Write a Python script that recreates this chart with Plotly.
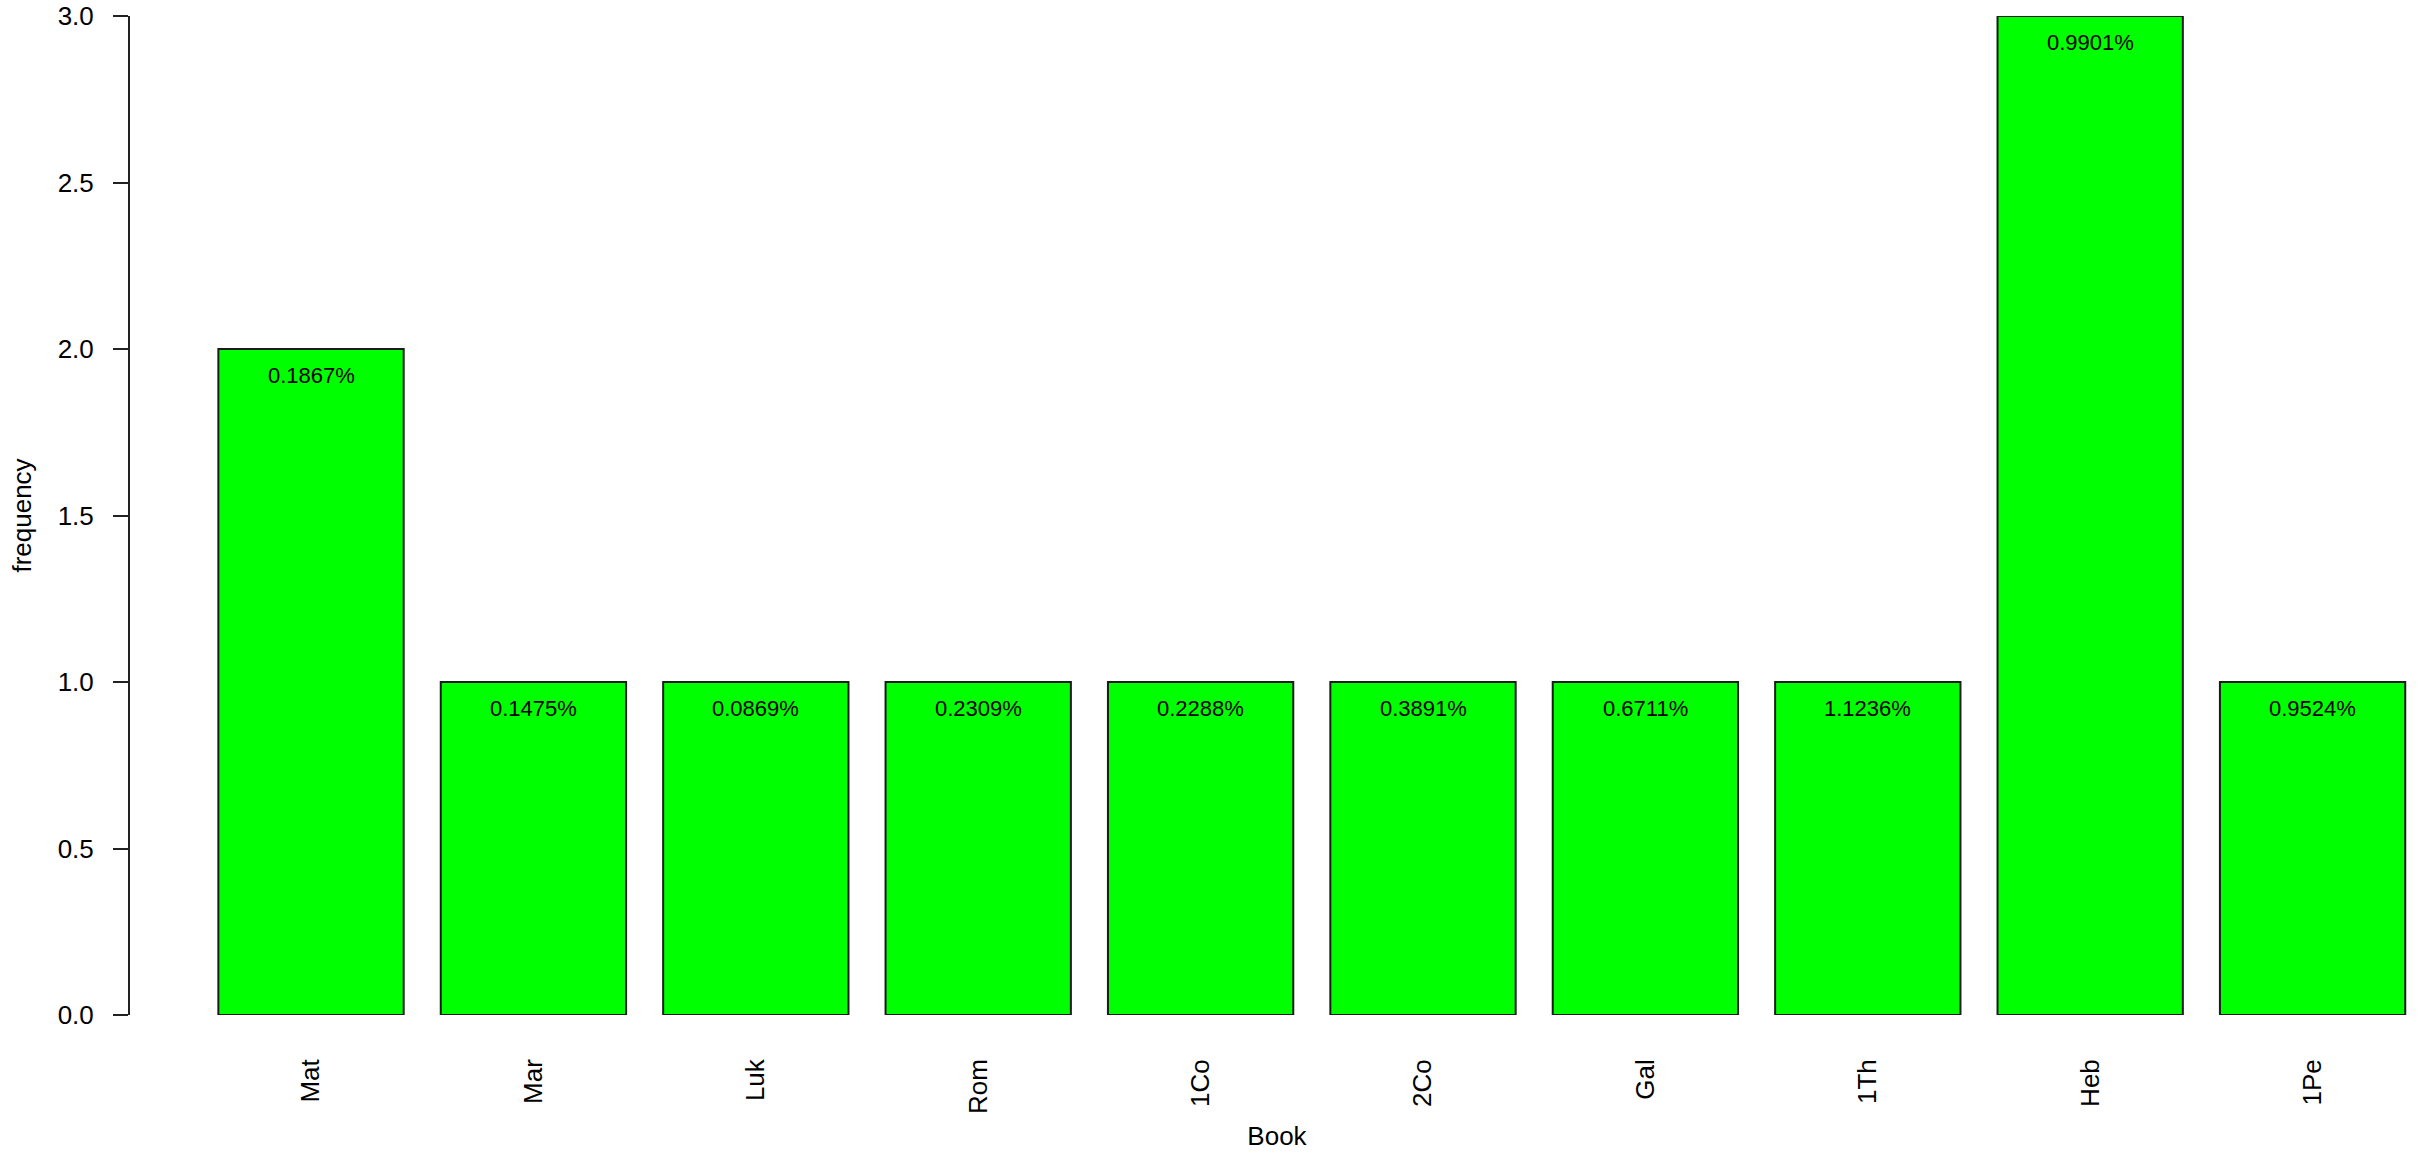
import plotly.graph_objects as go

books = ["Mat", "Mar", "Luk", "Rom", "1Co", "2Co", "Gal", "1Th", "Heb", "1Pe"]
frequency = [2, 1, 1, 1, 1, 1, 1, 1, 3, 1]
percent_labels = ["0.1867%", "0.1475%", "0.0869%", "0.2309%", "0.2288%",
                  "0.3891%", "0.6711%", "1.1236%", "0.9901%", "0.9524%"]
y_ticks = [0.0, 0.5, 1.0, 1.5, 2.0, 2.5, 3.0]

FONT = "Liberation Sans, Arial, sans-serif"

fig = go.Figure()
fig.add_trace(go.Bar(
    x=books, y=frequency,
    marker=dict(color="#00FF00", line=dict(color="#1a1a1a", width=2)),
    showlegend=False, hoverinfo="skip",
))

for b, f, t in zip(books, frequency, percent_labels):
    fig.add_annotation(x=b, y=f, text=t, showarrow=False, yanchor="middle",
                       yshift=-26, font=dict(family=FONT, size=22, color="black"))

fig.update_layout(
    width=2424, height=1157,
    margin=dict(l=130, r=0, t=16, b=142, autoexpand=False),
    plot_bgcolor="white", paper_bgcolor="white",
    bargap=1/6,
    font=dict(family=FONT, color="black"),
)
fig.update_xaxes(
    type="category", range=[-0.814, 9.501],
    showline=False, showgrid=False, zeroline=False,
    ticks="", tickangle=-90, ticklabelstandoff=38,
    tickfont=dict(family=FONT, size=26, color="black"),
    title=dict(text="Book", font=dict(family=FONT, size=26, color="black"), standoff=13),
    automargin=False,
)
fig.update_yaxes(
    range=[0, 3], tickvals=y_ticks, ticktext=[f"{v:.1f}" for v in y_ticks],
    showline=True, linecolor="#222222", linewidth=2,
    ticks="outside", ticklen=15, tickwidth=2, tickcolor="#222222",
    showgrid=False, zeroline=False, ticklabelstandoff=14,
    tickfont=dict(family=FONT, size=26, color="black"),
    title=dict(text="frequency", font=dict(family=FONT, size=26, color="black"), standoff=19),
    automargin=False,
)

fig.write_html("out.html", config={"displayModeBar": False},
               post_script="document.body.style.margin='0px';document.body.style.overflow='hidden';")
